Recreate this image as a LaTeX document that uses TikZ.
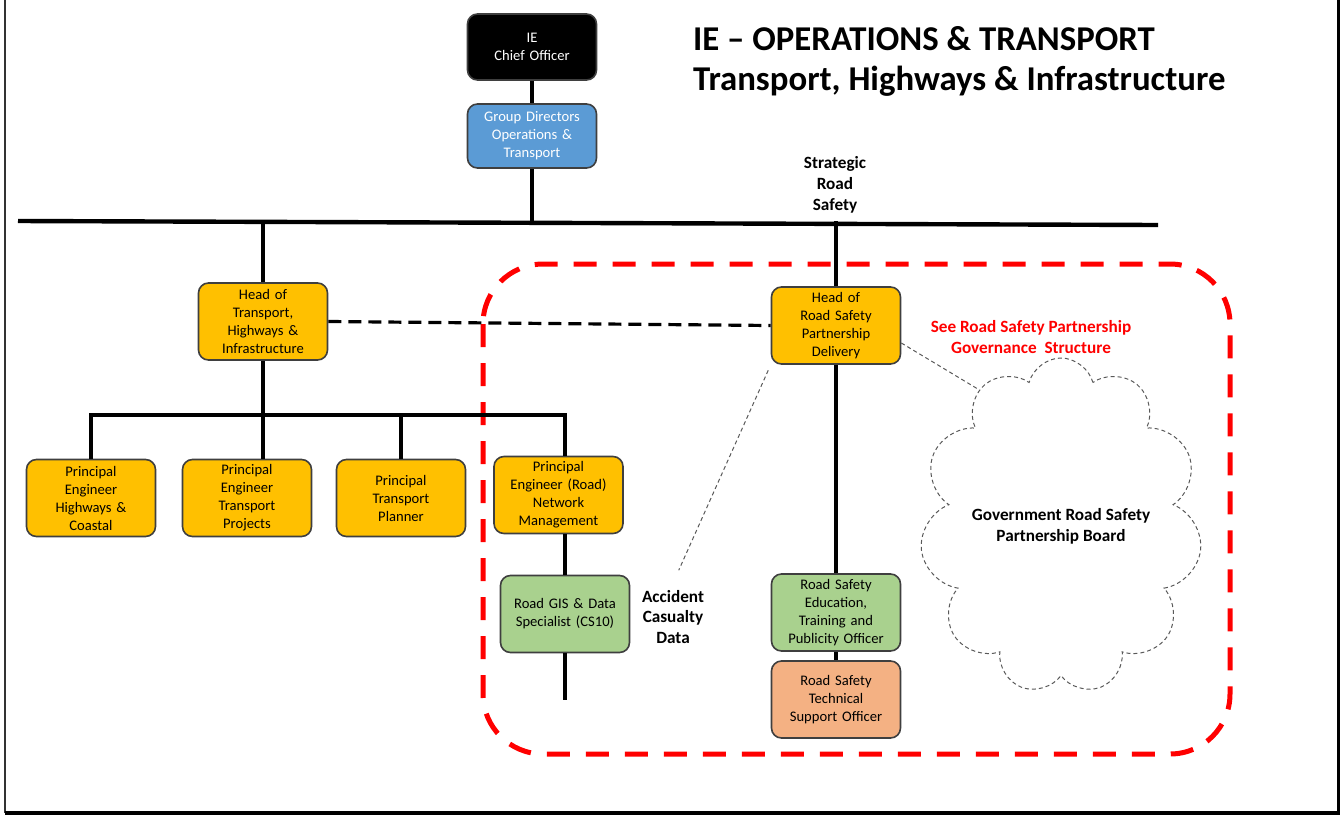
\documentclass[tikz,border=0pt]{standalone}
\usepackage{fontspec}
\setmainfont{Carlito}
\usetikzlibrary{shapes.symbols}

\definecolor{postyellow}{HTML}{FFC000}
\definecolor{postblue}{HTML}{5B9BD5}
\definecolor{postgreen}{HTML}{A9D18E}
\definecolor{postorange}{HTML}{F4B183}
\definecolor{boxline}{HTML}{3F3F3F}

\begin{document}
\begin{tikzpicture}[x=0.5pt, y=-0.5pt,
        orgbox/.style={draw=boxline, line width=0.8pt, rounded corners=5pt, fill=postyellow,
            minimum width=64.5pt, minimum height=38.5pt, text width=62pt, align=center,
            inner sep=1pt, font=\fontsize{7.3}{9}\selectfont},
        link/.style={line width=1.6pt},
        mainbar/.style={line width=2.2pt},
        hint/.style={gray!70!black, line width=0.5pt, dash pattern=on 2pt off 1.5pt},
        note/.style={align=center, font=\fontsize{8.6}{10.4}\selectfont\bfseries}]
    \useasboundingbox (0,0) rectangle (1340,815);
    \draw[line width=1pt, black!80] (5,0) -- (5,813);
    \draw[line width=2pt] (5,813) -- (1339,813) -- (1339,0);

    \node[anchor=west, align=left, font=\fontsize{17.4}{20}\selectfont\bfseries] (title) at (686,61)
        {IE -- OPERATIONS \& TRANSPORT\\Transport, Highways \& Infrastructure};

    \node[orgbox, fill=black, text=white, minimum height=33pt] (chief) at (532,47) {IE\\Chief Officer};
    \node[orgbox, fill=postblue, text=white, minimum height=32pt] (group) at (532,136)
        {Group Directors\\Operations \&\\Transport};
    \node[note] (srs) at (835,185) {Strategic\\Road\\Safety};

    \coordinate (barL) at (18,221);
    \coordinate (barR) at (1158,225);
    \coordinate (lowbar) at (0,415);

    \node[orgbox] (headthi) at (263,321.5) {Head of\\Transport,\\Highways \&\\Infrastructure};
    \node[orgbox] (headrsp) at (836,325.5) {Head of\\Road Safety\\Partnership\\Delivery};

    \foreach \name/\x/\y/\txt in {pehc/91/498/{Principal\\Engineer\\Highways \&\\Coastal},
            petp/247/498/{Principal\\Engineer\\Transport\\Projects},
            ptp/401/498/{Principal\\Transport\\Planner},
            penm/558.5/495/{Principal\\Engineer (Road)\\Network\\Management}}
        \node[orgbox] (\name) at (\x,\y) {\txt};

    \node[orgbox, fill=postgreen] (gis) at (565,614) {Road GIS \& Data\\Specialist (CS10)};
    \node[orgbox, fill=postgreen] (rsedu) at (836,612.5)
        {Road Safety\\Education,\\Training and\\Publicity Officer};
    \node[orgbox, fill=postorange] (rstech) at (836,699.5) {Road Safety\\Technical\\Support Officer};

    \node[note] (acc) at (673,617) {Accident\\Casualty\\Data};
    \node[note, text=red] (see) at (1031,337) {See Road Safety Partnership\\Governance~ Structure};
    \node[cloud, cloud puffs=11, cloud ignores aspect, draw=gray!70!black, line width=0.5pt,
        dash pattern=on 2pt off 1.5pt, minimum width=141pt, minimum height=168pt, align=center,
        font=\fontsize{8.6}{10.4}\selectfont\bfseries] (gov) at (1061,526)
        {Government Road Safety\\Partnership Board};

    \draw[red, line width=2.5pt, dash pattern=on 11.5pt off 8pt, rounded corners=30pt]
        (483,264) rectangle (1230,754);

    \draw[mainbar] (barL) -- (barR);
    \draw[link] (chief) -- (group);
    \draw[link] (group.south) -- (group |- barL);
    \draw[link] (headthi.north) -- (headthi |- barL);
    \draw[link] (headrsp.north) -- (headrsp |- barL);
    \draw[link, dash pattern=on 6.5pt off 3.5pt] (headthi.east) -- (headrsp.west);

    \draw[link] (headthi.south) -- (headthi |- petp.north);
    \draw[link] (pehc.north) -- (pehc |- lowbar) -- (gis |- lowbar) -- (gis |- penm.north);
    \draw[link] (ptp.north) -- (ptp |- lowbar);
    \draw[link] (gis |- penm.south) -- (gis.north);
    \draw[link] (gis.south) -- ++(0,47);

    \draw[link] (headrsp.south) -- (rsedu.north);
    \draw[link] (rsedu.south) -- (rstech.north);

    \draw[hint, shorten <=3pt, shorten >=7pt] (headrsp.south west) -- (acc.north);
    \draw[hint] (headrsp.-15) -- (gov.121);
\end{tikzpicture}
\end{document}
